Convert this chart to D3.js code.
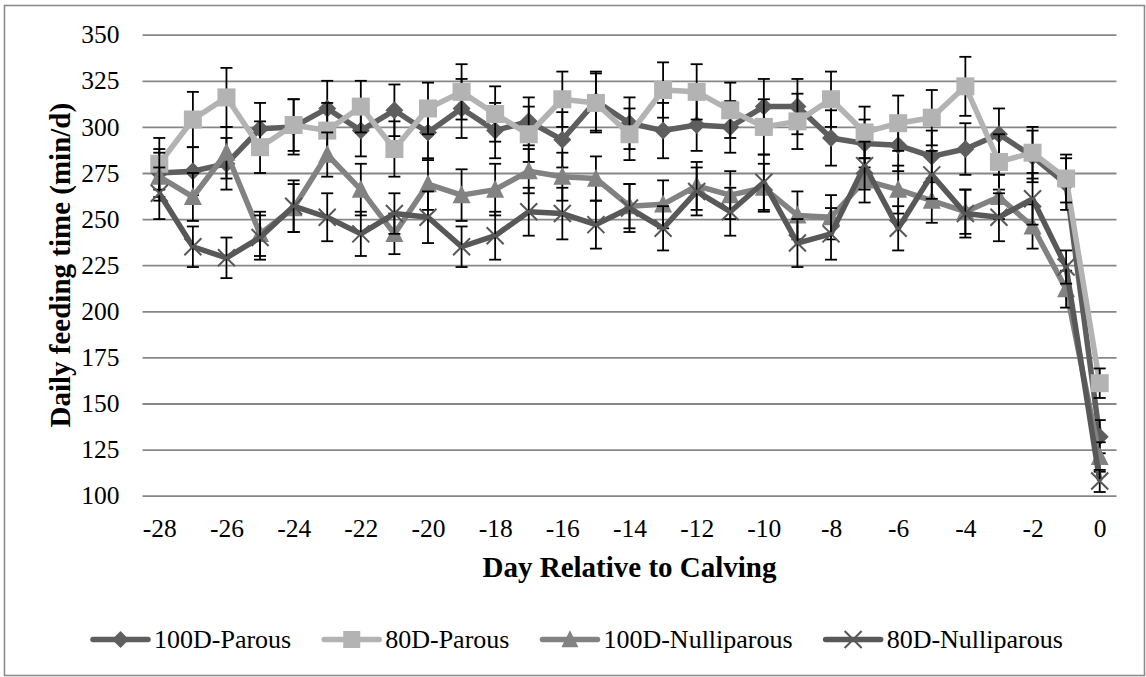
<!DOCTYPE html>
<html>
<head>
<meta charset="utf-8">
<script src="https://cdn.jsdelivr.net/npm/d3@7"></script>
<style>
  html, body { margin: 0; padding: 0; background: #fff; }
  svg { display: block; }
  svg text { font-family: "Liberation Serif", "Times New Roman", serif; fill: #000; }
</style>
</head>
<body>
<svg id="chart" width="1146" height="677"></svg>
<script>
// ---- data ----
const days = d3.range(-28, 1);
const xTickLabels = [-28, -26, -24, -22, -20, -18, -16, -14, -12, -10, -8, -6, -4, -2, 0];
const yTickLabels = [100, 125, 150, 175, 200, 225, 250, 275, 300, 325, 350];
const seriesNames = ["100D-Parous", "80D-Parous", "100D-Nulliparous", "80D-Nulliparous"];

const parous100 = [275, 276, 280, 299, 300, 310, 298, 309, 297, 310, 298, 303, 293, 314, 302, 298, 301, 300, 311, 311, 294, 291, 290, 284, 288, 296, 284, 269, 132];
const parous80 = [280, 304, 316, 289, 301, 298, 311, 288, 310, 319, 307, 296, 315, 313, 296, 320, 319, 309, 300, 303, 315, 297, 302, 305, 322, 281, 286, 272, 161];
const nulli100 = [273, 262, 286, 242, 256, 285, 266, 242, 269, 263, 266, 276, 273, 272, 257, 258, 268, 263, 267, 252, 251, 271, 266, 260, 254, 262, 246, 212, 121];
const nulli80 = [264, 235, 229, 240, 257, 251, 242, 253, 251, 235, 241, 254, 253, 247, 256, 245, 265, 254, 270, 237, 242, 279, 245, 274, 253, 251, 261, 224, 108];

const parous100SE = [13, 13, 14, 14, 15, 15, 14, 14, 15, 16, 15, 13, 15, 16, 14, 15, 14, 14, 15, 15, 15, 13, 14, 14, 14, 14, 14, 14, 9];
const parous80SE = [14, 15, 16, 14, 14, 15, 14, 15, 14, 15, 15, 15, 15, 16, 14, 15, 15, 15, 15, 15, 15, 14, 15, 15, 16, 15, 14, 13, 8];
const nulli100SE = [13, 13, 14, 12, 13, 12, 14, 11, 14, 14, 14, 12, 13, 12, 12, 13, 13, 13, 13, 13, 12, 12, 13, 12, 12, 12, 12, 10, 8];
const nulli80SE = [14, 11, 11, 12, 14, 13, 12, 11, 14, 11, 13, 13, 14, 13, 13, 12, 13, 13, 15, 13, 14, 13, 12, 13, 13, 13, 14, 9, 6];

// ---- styling (not data) ----
const FONT = '"Liberation Serif", "Times New Roman", serif';
const styles = [
  { color: "#5e5e5e", marker: "diamond" },
  { color: "#b3b3b3", marker: "square" },
  { color: "#828282", marker: "triangle" },
  { color: "#585858", marker: "x" }
];

const series = [
  { name: seriesNames[0], values: parous100, se: parous100SE },
  { name: seriesNames[1], values: parous80, se: parous80SE },
  { name: seriesNames[2], values: nulli100, se: nulli100SE },
  { name: seriesNames[3], values: nulli80, se: nulli80SE }
].map((s, i) => Object.assign(s, styles[i]));

const svg = d3.select("#chart").attr("font-family", FONT);
const plot = { left: 142.5, right: 1116.5, top: 34.7, bottom: 495.7 };

svg.append("rect")
  .attr("x", 4.5).attr("y", 5.5).attr("width", 1140).attr("height", 670)
  .attr("fill", "#fff").attr("stroke", "#8c8c8c").attr("stroke-width", 1.6);

const x = d3.scalePoint().domain(days).range([plot.left, plot.right]).padding(0.5);
const y = d3.scaleLinear().domain([100, 350]).range([plot.bottom, plot.top]);

// gridlines
const grid = svg.append("g").attr("transform", `translate(${plot.left},0)`)
  .call(d3.axisLeft(y).tickValues(yTickLabels).tickSize(-(plot.right - plot.left)).tickFormat(""));
grid.select(".domain").remove();
grid.selectAll("line").attr("stroke", "#878787").attr("stroke-width", 1.8);

// y axis labels
const yAxis = svg.append("g").attr("transform", `translate(${plot.left},0)`)
  .call(d3.axisLeft(y).tickValues(yTickLabels).tickSize(0).tickPadding(23));
yAxis.attr("font-family", FONT).attr("font-size", null);
yAxis.select(".domain").remove();
yAxis.selectAll("text").attr("font-size", "25.5px").style("font-family", FONT);

// x axis labels
const xAxis = svg.append("g").attr("transform", `translate(0,${plot.bottom})`)
  .call(d3.axisBottom(x).tickValues(xTickLabels).tickSize(0).tickPadding(23));
xAxis.attr("font-family", FONT).attr("font-size", null);
xAxis.select(".domain").remove();
xAxis.selectAll("text").attr("font-size", "25.5px").style("font-family", FONT);

// axis titles
svg.append("text")
  .attr("x", (plot.left + plot.right) / 2).attr("y", 577)
  .attr("text-anchor", "middle").attr("font-weight", "bold").attr("font-size", "29px")
  .style("font-family", FONT)
  .text("Day Relative to Calving");
svg.append("text")
  .attr("transform", `translate(70,${(plot.top + plot.bottom) / 2}) rotate(-90)`)
  .attr("text-anchor", "middle").attr("font-weight", "bold").attr("font-size", "29px")
  .style("font-family", FONT)
  .text("Daily feeding time (min/d)");

function drawMarker(g, type, color, size) {
  const h = size / 2;
  if (type === "diamond") {
    g.append("path").attr("d", `M0,${-h}L${h},0L0,${h}L${-h},0Z`).attr("fill", color);
  } else if (type === "square") {
    g.append("rect").attr("x", -h).attr("y", -h).attr("width", size).attr("height", size).attr("fill", color);
  } else if (type === "triangle") {
    g.append("path").attr("d", `M0,${-h * 1.1}L${h},${h * 0.9}L${-h},${h * 0.9}Z`).attr("fill", color);
  } else if (type === "x") {
    g.append("path").attr("d", `M${-h},${-h}L${h},${h}M${h},${-h}L${-h},${h}`)
      .attr("stroke", color).attr("stroke-width", 2).attr("fill", "none");
  }
}

const line = d3.line().x((d, i) => x(days[i])).y(d => y(d));

series.forEach(s => {
  const g = svg.append("g");
  g.append("path").datum(s.values).attr("d", line)
    .attr("fill", "none").attr("stroke", s.color).attr("stroke-width", 5.5)
    .attr("stroke-linejoin", "round");
  // error bars
  const eb = g.append("g").attr("stroke", "#000").attr("stroke-width", 1.8);
  s.values.forEach((v, i) => {
    const cx = x(days[i]);
    const y1 = y(v + s.se[i]), y2 = y(v - s.se[i]);
    eb.append("line").attr("x1", cx).attr("x2", cx).attr("y1", y1).attr("y2", y2);
    eb.append("line").attr("x1", cx - 6).attr("x2", cx + 6).attr("y1", y1).attr("y2", y1);
    eb.append("line").attr("x1", cx - 6).attr("x2", cx + 6).attr("y1", y2).attr("y2", y2);
  });
  s.values.forEach((v, i) => {
    const mg = g.append("g").attr("transform", `translate(${x(days[i])},${y(v)})`);
    drawMarker(mg, s.marker, s.color, s.marker === "x" ? 17 : 18);
  });
});

// legend
const legendY = 639.5;
let lx = 93;
series.forEach(s => {
  const g = svg.append("g");
  g.append("line").attr("x1", lx).attr("x2", lx + 55).attr("y1", legendY).attr("y2", legendY)
    .attr("stroke", s.color).attr("stroke-width", 5.5).attr("stroke-linecap", "round");
  const mg = g.append("g").attr("transform", `translate(${lx + 27.5},${legendY})`);
  drawMarker(mg, s.marker, s.color, 17);
  const t = g.append("text").attr("x", lx + 61).attr("y", 648).attr("font-size", "26px")
    .style("font-family", FONT).text(s.name);
  lx = lx + 61 + t.node().getComputedTextLength() + 33;
});
</script>
</body>
</html>
